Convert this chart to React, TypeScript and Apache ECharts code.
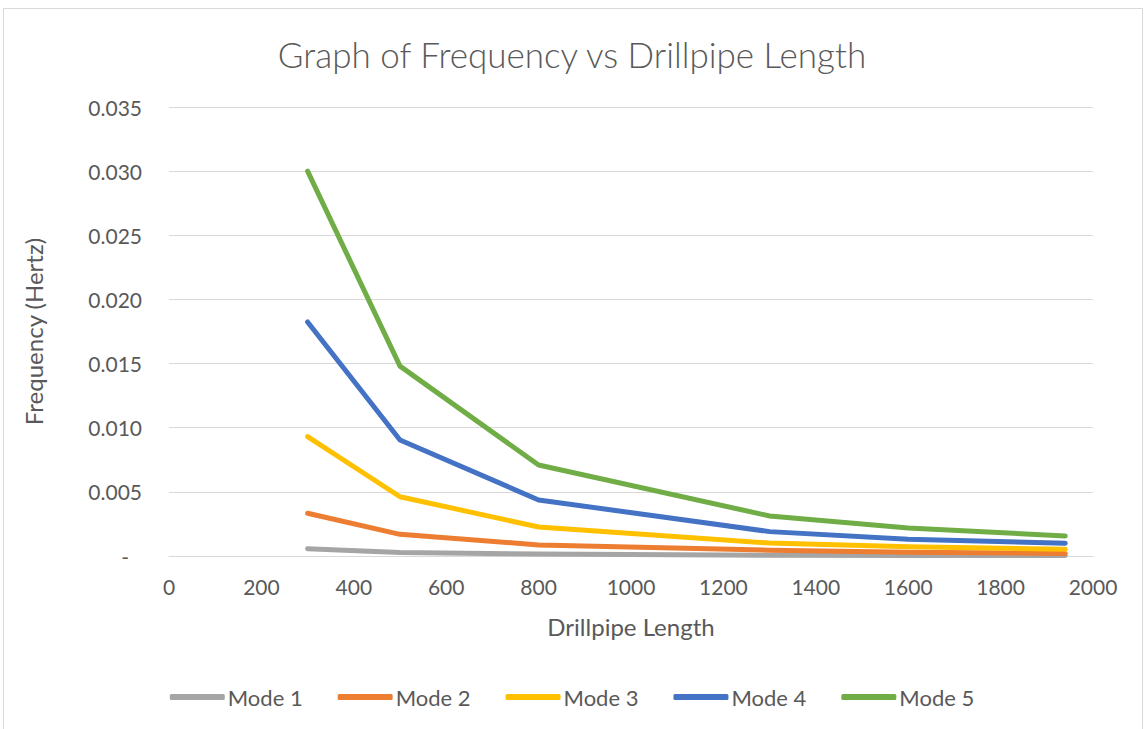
import React, { useEffect, useRef } from "react";
import * as echarts from "echarts";

const lengths = [300, 500, 800, 1300, 1600, 1940];
const seriesNames = ["Mode 1", "Mode 2", "Mode 3", "Mode 4", "Mode 5"];
const mode1 = [0.00057, 0.00028, 0.00015, 0.00006, 0.00004, 0.00003];
const mode2 = [0.00333, 0.00169, 0.00086, 0.00045, 0.0003, 0.0002];
const mode3 = [0.0093, 0.00462, 0.00226, 0.00101, 0.00072, 0.00052];
const mode4 = [0.01824, 0.00904, 0.00437, 0.0019, 0.0013, 0.00099];
const mode5 = [0.03, 0.0148, 0.00709, 0.00312, 0.00218, 0.00156];
const colors = ["#A5A5A5", "#ED7D31", "#FFC000", "#4472C4", "#70AD47"];

const allModes = [mode1, mode2, mode3, mode4, mode5];

export default function App() {
  const ref = useRef<HTMLDivElement>(null);
  useEffect(() => {
    if (!ref.current) return;
    const chart = echarts.init(ref.current, null, { renderer: "svg" });
    const font = "Lato, 'Open Sans', sans-serif";
    chart.setOption({
      animation: false,
      backgroundColor: "#ffffff",
      textStyle: { fontFamily: font },
      title: {
        text: "Graph of Frequency vs Drillpipe Length",
        left: "center",
        top: 31,
        textStyle: { fontSize: 35, fontWeight: 300, color: "#595959", fontFamily: font },
      },
      graphic: [
        {
          type: "rect",
          shape: { x: 3.5, y: 8.5, width: 1139, height: 740 },
          style: { fill: "none", stroke: "#d9d9d9", lineWidth: 1 },
          silent: true,
        },
      ],
      grid: { left: 169, right: 51, top: 107, bottom: 173, containLabel: false },
      legend: {
        top: 681,
        left: "center",
        icon: "roundRect",
        itemWidth: 55,
        itemHeight: 6,
        itemGap: 35,
        textStyle: { fontSize: 22, color: "#595959", fontFamily: font, padding: [0, 0, 0, -2] },
        data: seriesNames,
      },
      xAxis: {
        type: "value",
        min: 0,
        max: 2000,
        interval: 200,
        name: "Drillpipe Length",
        nameLocation: "middle",
        nameGap: 58,
        nameTextStyle: { fontSize: 24, color: "#595959", fontFamily: font },
        axisLine: { show: true, lineStyle: { color: "#d9d9d9", width: 1 } },
        axisTick: { show: false },
        splitLine: { show: false },
        axisLabel: {
          fontSize: 21,
          color: "#595959",
          margin: 20,
          fontFamily: font,
          formatter: (v: number) => String(v),
        },
      },
      yAxis: {
        type: "value",
        min: 0,
        max: 0.035,
        interval: 0.005,
        name: "Frequency (Hertz)",
        nameLocation: "middle",
        nameGap: 124,
        nameTextStyle: { fontSize: 24, color: "#595959", fontFamily: font },
        axisLine: { show: false },
        axisTick: { show: false },
        splitLine: { show: true, lineStyle: { color: "#d9d9d9", width: 1 } },
        axisLabel: {
          fontSize: 21,
          color: "#595959",
          margin: 27,
          fontFamily: font,
          formatter: (v: number) => (Math.abs(v) < 1e-9 ? "{dash|-}" : v.toFixed(3)),
          rich: { dash: { fontSize: 21, color: "#595959", padding: [0, 13, 0, 0], fontFamily: font } },
        },
      },
      series: allModes.map((vals, i) => ({
        name: seriesNames[i],
        type: "line",
        data: lengths.map((x, j) => [x, vals[j]]),
        showSymbol: false,
        symbol: "none",
        color: colors[i],
        lineStyle: { width: 5, color: colors[i], cap: "round", join: "round" },
        z: 2 + i,
      })),
    });
    return () => chart.dispose();
  }, []);
  return (
    <div
      ref={ref}
      style={{ position: "fixed", left: 0, top: 0, width: 1144, height: 729 }}
    />
  );
}
